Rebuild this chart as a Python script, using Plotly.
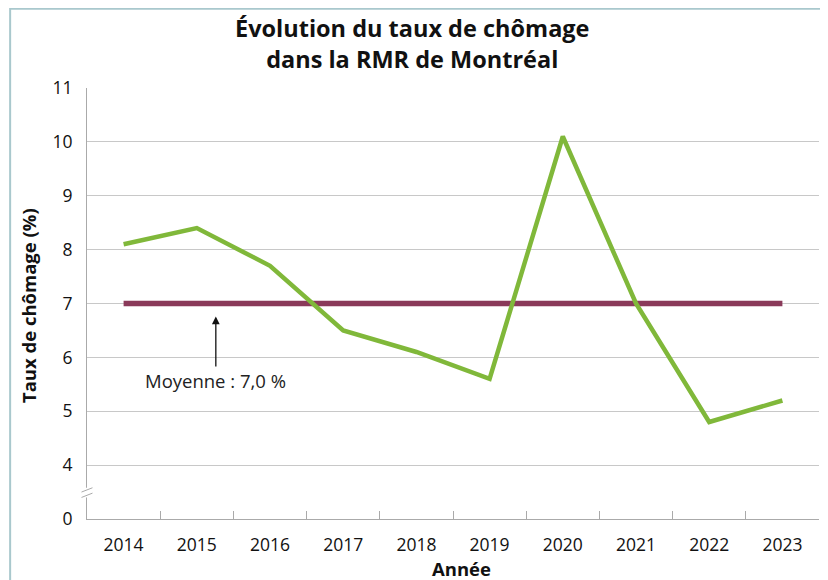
import plotly.graph_objects as go

# données
annees = ['2014', '2015', '2016', '2017', '2018', '2019', '2020', '2021', '2022', '2023']
taux = [8.1, 8.4, 7.7, 6.5, 6.1, 5.6, 10.1, 7.0, 4.8, 5.2]
moyenne = 7.0

# axe y coupé : le 0 est dessiné à la place de 3
y_ticks = [3, 4, 5, 6, 7, 8, 9, 10, 11]
y_ticktext = ['0', '4', '5', '6', '7', '8', '9', '10', '11']

vert = '#80B83A'
bordeaux = '#8A3A5A'
gris = '#C8C8C8'

fig = go.Figure()

fig.add_trace(go.Scatter(
    x=annees, y=[moyenne] * len(annees),
    mode='lines', line=dict(color=bordeaux, width=5.5),
    hoverinfo='skip', showlegend=False
))

fig.add_trace(go.Scatter(
    x=annees, y=taux,
    mode='lines', line=dict(color=vert, width=4.5),
    showlegend=False
))

fig.add_annotation(
    x=1.26, y=6.76, xref='x', yref='y',
    text='Moyenne : 7,0 %', showarrow=True,
    arrowhead=2, arrowsize=1.2, arrowwidth=1.3, arrowcolor='#111',
    ax=0, ay=64,
    font=dict(family='Open Sans', size=18.5, color='#222')
)

# titre et titres d'axes en annotations pour les placer précisément
fig.add_annotation(
    x=0.444, y=1.181, xref='paper', yref='paper',
    xanchor='center', yanchor='top', showarrow=False,
    text='<b>Évolution du taux de chômage<br>dans la RMR de Montréal</b>',
    font=dict(family='Open Sans', size=23.5, color='#111')
)
fig.add_annotation(
    x=0.511, y=-0.116, xref='paper', yref='paper',
    xanchor='center', yanchor='middle', showarrow=False,
    text='<b>Année</b>', font=dict(family='Open Sans', size=18.5, color='#111')
)
fig.add_annotation(
    x=-0.0806, y=0.494, xref='paper', yref='paper',
    xanchor='center', yanchor='middle', showarrow=False, textangle=-90,
    text='<b>Taux de chômage (%)</b>', font=dict(family='Open Sans', size=18.5, color='#111')
)

# cadre extérieur
fig.add_shape(type='rect', xref='paper', yref='paper',
              x0=-0.105, x1=1.0068, y0=-0.2, y1=1.184,
              line=dict(color='#A9C8CD', width=2), layer='below')

# coupure de l'axe y
fig.add_shape(type='line', xref='paper', yref='y', x0=0, x1=0, y0=3.40, y1=3.58,
              line=dict(color='white', width=4))
for y0 in (3.44, 3.54):
    fig.add_shape(type='line', xref='paper', yref='y',
                  x0=-0.0075, x1=0.0075, y0=y0 - 0.04, y1=y0 + 0.04,
                  line=dict(color='#AAAAAA', width=1))

# la page ajoute une marge de 8 px : figure réduite d'autant
fig.update_layout(
    width=820, height=572,
    margin=dict(l=79, r=9, t=80, b=61),
    paper_bgcolor='white', plot_bgcolor='white',
    font=dict(family='Open Sans', size=17.5, color='#111'),
    xaxis=dict(
        type='category', range=[-0.5, 9.5], automargin=False,
        tickson='boundaries', ticks='inside', ticklen=8, tickcolor='#AAAAAA',
        showline=True, linecolor='#AAAAAA', linewidth=1.2,
        showgrid=False, ticklabelstandoff=10
    ),
    yaxis=dict(
        range=[3, 11], tickvals=y_ticks, ticktext=y_ticktext, automargin=False,
        showline=True, linecolor='#AAAAAA', linewidth=1.2,
        showgrid=True, gridcolor=gris, gridwidth=1.2,
        zeroline=False, ticks='', ticklabelstandoff=10
    )
)

fig.write_html('out.html')
